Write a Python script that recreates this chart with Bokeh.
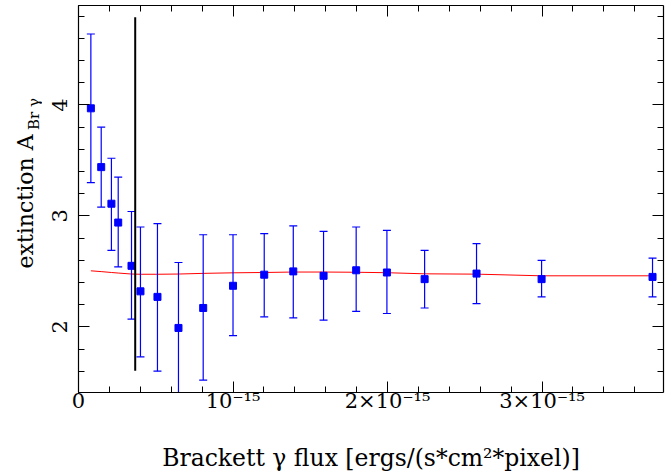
import numpy as np
from bokeh.plotting import figure
from bokeh.layouts import row
from bokeh.models import (ColumnDataSource, Range1d, LinearAxis, SingleIntervalTicker,
                          CustomJSTickFormatter, Label, CustomLabelingPolicy)
from bokeh.embed import file_html
from bokeh.resources import INLINE

# ---- data (flux in units of 1e-15 ergs/(s*cm^2*pixel)) ----
flux_e15 = [0.08, 0.147, 0.213, 0.257, 0.343, 0.401, 0.511, 0.647, 0.807, 1.00,
            1.202, 1.39, 1.586, 1.797, 1.996, 2.24, 2.576, 2.997, 3.715]
extinction = [3.97, 3.44, 3.11, 2.94, 2.55, 2.32, 2.27, 1.99, 2.17, 2.37,
              2.47, 2.50, 2.46, 2.51, 2.49, 2.43, 2.48, 2.43, 2.45]
err_upper = [4.64, 3.80, 3.52, 3.35, 3.04, 2.90, 2.93, 2.58, 2.83, 2.83,
             2.84, 2.91, 2.86, 2.90, 2.87, 2.69, 2.75, 2.60, 2.62]
err_lower = [3.30, 3.08, 2.69, 2.54, 2.07, 1.73, 1.60, 1.40, 1.52, 1.92,
             2.09, 2.08, 2.06, 2.14, 2.12, 2.17, 2.21, 2.27, 2.27]
fit_curve = [2.505, 2.498, 2.490, 2.485, 2.476, 2.474, 2.474, 2.476, 2.482, 2.487,
             2.490, 2.494, 2.494, 2.492, 2.488, 2.478, 2.475, 2.460, 2.460]
cut_flux = 0.367
cut_extent = [1.605, 4.79]

x_range = (0.0, 3.786)
y_range = (1.408, 4.897)

y_label_main = "extinction A"
y_label_sub = "Br \u03b3"
x_label = "Brackett \u03b3 flux [ergs/(s*cm\u00b2*pixel)]"

FONT = "DejaVu Serif"
W, H = 667, 474
LABEL_W = 42

no_labels = CustomLabelingPolicy(code="return new Set()")

src = ColumnDataSource(dict(x=flux_e15, y=extinction, lo=err_lower, hi=err_upper, fit=fit_curve))

# ---- narrow strip holding the y-axis title (main text + subscript) ----
lab = figure(width=LABEL_W, height=H, output_backend="svg", toolbar_location=None,
             x_range=Range1d(0, LABEL_W), y_range=Range1d(0, H),
             x_axis_location=None, y_axis_location=None, min_border=0)
lab.xgrid.visible = False
lab.ygrid.visible = False
lab.outline_line_color = None
lab.add_layout(Label(x=25.4, y=H - 240, text=y_label_main, angle=np.pi / 2, text_align="center",
                     text_baseline="middle", text_font=FONT, text_font_size="22px",
                     text_color="black"))
lab.add_layout(Label(x=33, y=H - 133, text=y_label_sub, angle=np.pi / 2, text_align="center",
                     text_baseline="middle", text_font=FONT, text_font_size="15px",
                     text_color="black"))

# ---- main plot ----
p = figure(width=W - LABEL_W, height=H, output_backend="svg", toolbar_location=None,
           x_range=Range1d(*x_range), y_range=Range1d(*y_range),
           min_border_left=78 - LABEL_W, min_border_right=4, min_border_top=5, min_border_bottom=80)
p.xgrid.visible = False
p.ygrid.visible = False
p.outline_line_color = None
p.background_fill_color = "white"

xfmt = CustomJSTickFormatter(code="""
if (Math.abs(tick) < 1e-9) return "0";
if (Math.abs(tick - 1) < 1e-9) return "10\u207b\u00b9\u2075";
return tick.toFixed(0) + "\u00d710\u207b\u00b9\u2075";
""")

def style_axis(ax, labels=True):
    ax.axis_line_color = "black"
    ax.axis_line_width = 1.2
    ax.major_tick_line_color = "black"
    ax.minor_tick_line_color = "black"
    ax.major_tick_in = 11
    ax.major_tick_out = 0
    ax.minor_tick_in = 6
    ax.minor_tick_out = 0
    ax.major_label_text_font = FONT
    ax.major_label_text_color = "black"
    if not labels:
        ax.major_label_policy = no_labels
        ax.major_label_text_font_size = "1px"
        ax.major_label_standoff = 0

# bottom
xb = p.xaxis[0]
xb.ticker = SingleIntervalTicker(interval=1, num_minor_ticks=5)
xb.formatter = xfmt
style_axis(xb)
xb.major_label_text_font_size = "21px"
xb.major_label_standoff = -4
xb.axis_label = x_label
xb.axis_label_text_font = FONT
xb.axis_label_text_font_size = "23.5px"
xb.axis_label_text_font_style = "normal"
xb.axis_label_text_color = "black"
xb.axis_label_standoff = 28

# left
yl = p.yaxis[0]
yl.ticker = SingleIntervalTicker(interval=1, num_minor_ticks=5)
style_axis(yl)
yl.major_label_text_font_size = "21px"
yl.major_label_orientation = "vertical"
yl.major_label_standoff = 11

# top and right mirror axes
xt = LinearAxis(ticker=SingleIntervalTicker(interval=1, num_minor_ticks=5))
style_axis(xt, labels=False)
p.add_layout(xt, "above")
yr = LinearAxis(ticker=SingleIntervalTicker(interval=1, num_minor_ticks=5))
style_axis(yr, labels=False)
p.add_layout(yr, "right")

# fit curve
p.line("x", "fit", source=src, line_color="#ff0000", line_width=1)
# error bars
p.segment(x0="x", y0="lo", x1="x", y1="hi", source=src, line_color="#0000ff", line_width=1.2)
p.scatter("x", "hi", source=src, marker="dash", size=8, line_color="#0000ff", line_width=1.2)
p.scatter("x", "lo", source=src, marker="dash", size=8, line_color="#0000ff", line_width=1.2)
# points
p.scatter("x", "y", source=src, marker="square", size=7, fill_color="#0000ff", line_color="#0000ff")
# cut line
p.line([cut_flux, cut_flux], cut_extent, line_color="black", line_width=2)

layout = row(lab, p, spacing=0)
open("out.html", "w").write(file_html(layout, INLINE))
